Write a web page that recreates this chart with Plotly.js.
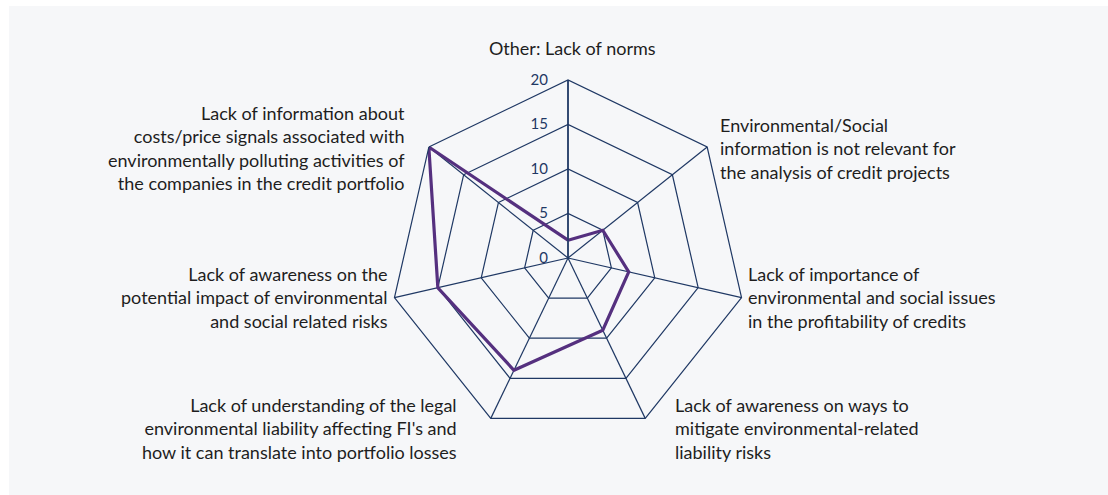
<!DOCTYPE html>
<html>
<head>
<meta charset="utf-8">
<script src="https://cdn.plot.ly/plotly-3.0.1.min.js"></script>
<style>
  html, body { margin: 0; padding: 0; background: #ffffff; }
  #chart { position: absolute; left: 9px; top: 6px; width: 1099px; height: 489px; }
</style>
</head>
<body>
<div id="chart"></div>
<script>
// Barriers - radar chart
const categories = [
    'Other: Lack of norms',
    'Environmental/Social<br>information is not relevant for<br>the analysis of credit projects',
    'Lack of importance of<br>environmental and social issues<br>in the profitability of credits',
    'Lack of awareness on ways to<br>mitigate environmental-related<br>liability risks',
    "Lack of understanding of the legal<br>environmental liability affecting FI's and<br>how it can translate into portfolio losses",
    'Lack of awareness on the<br>potential impact of environmental<br>and social related risks',
    'Lack of information about<br>costs/price signals associated with<br>environmentally polluting activities of<br>the companies in the credit portfolio'
];
const values = [2, 5, 7, 9, 14, 15, 20];
const radialTicks = [0, 5, 10, 15, 20];

const W = 1099, H = 489;
const M = { t: 74, b: 59, l: 80, r: 61 };
const navy = '#1f3864';

// where each category label sits (page pixels), Excel-like placement
const labelSpots = [
    { x: 572, y: 48, xa: 'center' },
    { x: 718, y: 148, xa: 'left' },
    { x: 746, y: 297, xa: 'left' },
    { x: 673, y: 428, xa: 'left' },
    { x: 459, y: 428, xa: 'right' },
    { x: 390, y: 297, xa: 'right' },
    { x: 407, y: 148, xa: 'right' }
];

const plotW = W - M.l - M.r, plotH = H - M.t - M.b;
const annotations = categories.map((txt, i) => {
    const s = labelSpots[i];
    return {
        text: txt,
        xref: 'paper', yref: 'paper',
        x: (s.x - 9 - M.l) / plotW,
        y: 1 - (s.y - 6 - M.t) / plotH,
        xanchor: s.xa, yanchor: 'middle',
        align: s.xa === 'center' ? 'center' : s.xa,
        showarrow: false,
        font: { family: 'Lato, sans-serif', color: '#1e1e1e', size: 18 }
    };
});

const trace = {
    type: 'scatterpolar',
    r: values.concat([values[0]]),
    theta: categories.concat([categories[0]]),
    mode: 'lines',
    line: { color: '#55307f', width: 3.2 },
    hoverinfo: 'skip'
};

const layout = {
    width: W,
    height: H,
    paper_bgcolor: '#f6f7f9',
    plot_bgcolor: '#f6f7f9',
    showlegend: false,
    font: { family: 'Lato, sans-serif', color: '#1e1e1e', size: 18 },
    margin: M,
    annotations: annotations,
    polar: {
        bgcolor: '#f6f7f9',
        gridshape: 'linear',
        radialaxis: {
            range: [0, 20],
            tickvals: radialTicks,
            ticktext: radialTicks.map(String),
            angle: 90,
            side: 'counterclockwise',
            tickangle: 90,
            showline: true,
            linecolor: navy,
            linewidth: 1.5,
            gridcolor: navy,
            gridwidth: 1.2,
            ticks: 'outside',
            ticklen: 14,
            tickcolor: 'rgba(0,0,0,0)',
            tickfont: { family: 'Lato, sans-serif', color: navy, size: 15 }
        },
        angularaxis: {
            rotation: 90,
            direction: 'clockwise',
            showline: true,
            linecolor: navy,
            linewidth: 1.2,
            gridcolor: navy,
            gridwidth: 1.2,
            ticks: '',
            showticklabels: false
        }
    }
};

Plotly.newPlot('chart', [trace], layout, { displayModeBar: false, staticPlot: true });
</script>
</body>
</html>
